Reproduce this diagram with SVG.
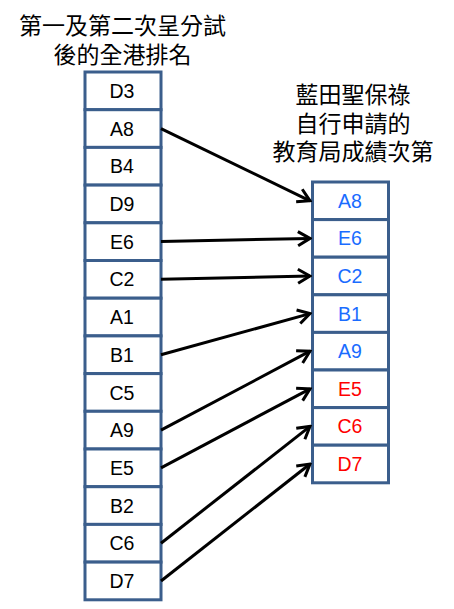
<svg xmlns="http://www.w3.org/2000/svg" width="454" height="609" viewBox="0 0 454 609">
<style>
.title{font-family:"Noto Sans CJK TC","Noto Sans CJK SC",sans-serif;font-size:23px;fill:#000;text-anchor:middle}
.cell{fill:#fff;stroke:#3B5E8C;stroke-width:3}
.lbl{font-family:"Liberation Sans",Arial,sans-serif;font-size:19.5px;text-anchor:middle}
.blk{fill:#000}.blu{fill:#1a6cff}.red{fill:#ff0000}
.conn{stroke:#000;stroke-width:3;fill:none;marker-end:url(#ah)}
</style>
<defs>
<marker id="ah" markerUnits="userSpaceOnUse" viewBox="-14 -9 16 18" refX="0" refY="0" markerWidth="16" markerHeight="18" orient="auto">
<polyline points="-12,-7 0,0 -12,7" fill="none" stroke="#000" stroke-width="3"/>
</marker>
</defs>
<g id="title-left">
<text class="title" x="122.5" y="34">第一及第二次呈分試</text>
<text class="title" x="122.5" y="63">後的全港排名</text>
</g>
<g id="title-right">
<text class="title" x="353" y="103">藍田聖保祿</text>
<text class="title" x="353" y="132">自行申請的</text>
<text class="title" x="353" y="160">教育局成績次第</text>
</g>
<g id="left-list">
<g id="L-D3"><rect class="cell" x="85" y="72" width="76" height="37.7"/><text class="lbl blk" x="122" y="97.9">D3</text></g>
<g id="L-A8"><rect class="cell" x="85" y="109.7" width="76" height="37.7"/><text class="lbl blk" x="122" y="135.6">A8</text></g>
<g id="L-B4"><rect class="cell" x="85" y="147.4" width="76" height="37.7"/><text class="lbl blk" x="122" y="173.3">B4</text></g>
<g id="L-D9"><rect class="cell" x="85" y="185.1" width="76" height="37.7"/><text class="lbl blk" x="122" y="211">D9</text></g>
<g id="L-E6"><rect class="cell" x="85" y="222.8" width="76" height="37.7"/><text class="lbl blk" x="122" y="248.7">E6</text></g>
<g id="L-C2"><rect class="cell" x="85" y="260.5" width="76" height="37.7"/><text class="lbl blk" x="122" y="286.4">C2</text></g>
<g id="L-A1"><rect class="cell" x="85" y="298.2" width="76" height="37.7"/><text class="lbl blk" x="122" y="324.1">A1</text></g>
<g id="L-B1"><rect class="cell" x="85" y="335.9" width="76" height="37.7"/><text class="lbl blk" x="122" y="361.8">B1</text></g>
<g id="L-C5"><rect class="cell" x="85" y="373.6" width="76" height="37.7"/><text class="lbl blk" x="122" y="399.5">C5</text></g>
<g id="L-A9"><rect class="cell" x="85" y="411.3" width="76" height="37.7"/><text class="lbl blk" x="122" y="437.2">A9</text></g>
<g id="L-E5"><rect class="cell" x="85" y="449" width="76" height="37.7"/><text class="lbl blk" x="122" y="474.9">E5</text></g>
<g id="L-B2"><rect class="cell" x="85" y="486.7" width="76" height="37.7"/><text class="lbl blk" x="122" y="512.6">B2</text></g>
<g id="L-C6"><rect class="cell" x="85" y="524.4" width="76" height="37.7"/><text class="lbl blk" x="122" y="550.3">C6</text></g>
<g id="L-D7"><rect class="cell" x="85" y="562.1" width="76" height="37.7"/><text class="lbl blk" x="122" y="588">D7</text></g>
</g>
<g id="right-list">
<g id="R-A8"><rect class="cell" x="312.5" y="182" width="76" height="37.6"/><text class="lbl blu" x="350" y="207.8">A8</text></g>
<g id="R-E6"><rect class="cell" x="312.5" y="219.6" width="76" height="37.6"/><text class="lbl blu" x="350" y="245.4">E6</text></g>
<g id="R-C2"><rect class="cell" x="312.5" y="257.2" width="76" height="37.6"/><text class="lbl blu" x="350" y="283">C2</text></g>
<g id="R-B1"><rect class="cell" x="312.5" y="294.8" width="76" height="37.6"/><text class="lbl blu" x="350" y="320.6">B1</text></g>
<g id="R-A9"><rect class="cell" x="312.5" y="332.4" width="76" height="37.6"/><text class="lbl blu" x="350" y="358.2">A9</text></g>
<g id="R-E5"><rect class="cell" x="312.5" y="370" width="76" height="37.6"/><text class="lbl red" x="350" y="395.8">E5</text></g>
<g id="R-C6"><rect class="cell" x="312.5" y="407.6" width="76" height="37.6"/><text class="lbl red" x="350" y="433.4">C6</text></g>
<g id="R-D7"><rect class="cell" x="312.5" y="445.2" width="76" height="37.6"/><text class="lbl red" x="350" y="471">D7</text></g>
</g>
<g id="connectors">
<line class="conn" x1="161" y1="128.6" x2="310" y2="200.8"/>
<line class="conn" x1="161" y1="241.6" x2="310" y2="238.4"/>
<line class="conn" x1="161" y1="279.3" x2="310" y2="276"/>
<line class="conn" x1="161" y1="354.8" x2="310" y2="313.6"/>
<line class="conn" x1="161" y1="430.2" x2="310" y2="351.2"/>
<line class="conn" x1="161" y1="467.8" x2="310" y2="388.8"/>
<line class="conn" x1="161" y1="543.2" x2="310" y2="426.4"/>
<line class="conn" x1="161" y1="581" x2="310" y2="464"/>
</g>
</svg>
